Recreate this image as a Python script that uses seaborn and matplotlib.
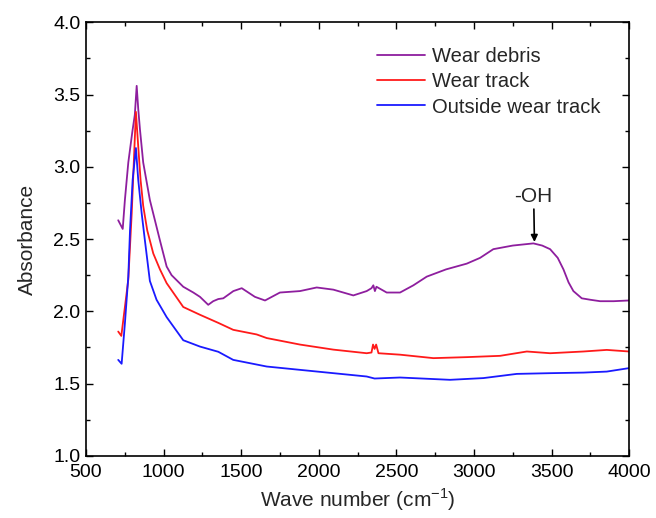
import pandas as pd
import seaborn as sns
import matplotlib
matplotlib.use('Agg')
import matplotlib.pyplot as plt
from matplotlib.ticker import MultipleLocator, FormatStrFormatter

# spectra
debris_x = [708, 737, 751, 773, 800, 815, 827, 837, 848, 869, 912, 977, 1020, 1052,
            1127, 1192, 1235, 1288, 1320, 1353, 1385, 1450, 1504, 1589, 1654, 1750,
            1879, 1987, 2094, 2223, 2309, 2340, 2352, 2362, 2372, 2438, 2524, 2610,
            2696, 2820, 2954, 3040, 3125, 3250, 3383, 3440, 3491, 3540, 3577, 3610,
            3641, 3695, 3750, 3813, 3900, 4000]
debris_y = [2.63, 2.57, 2.77, 3.03, 3.25, 3.36, 3.56, 3.40, 3.26, 3.03, 2.77, 2.49,
            2.31, 2.25, 2.17, 2.13, 2.10, 2.045, 2.07, 2.085, 2.09, 2.14, 2.16, 2.10,
            2.075, 2.13, 2.14, 2.165, 2.15, 2.11, 2.14, 2.16, 2.18, 2.14, 2.17, 2.13,
            2.13, 2.18, 2.24, 2.29, 2.33, 2.37, 2.43, 2.455, 2.47, 2.455, 2.43, 2.37,
            2.29, 2.20, 2.14, 2.09, 2.08, 2.07, 2.07, 2.075]

track_x = [708, 728, 750, 773, 795, 822, 837, 852, 869, 895, 934, 977, 1020, 1127,
           1235, 1353, 1449, 1600, 1665, 1879, 2094, 2309, 2340, 2350, 2360, 2370,
           2385, 2524, 2739, 2954, 3169, 3341, 3491, 3706, 3856, 4000]
track_y = [1.86, 1.83, 2.02, 2.22, 2.68, 3.38, 3.14, 2.91, 2.73, 2.56, 2.40, 2.29,
           2.195, 2.03, 1.976, 1.92, 1.872, 1.84, 1.815, 1.77, 1.735, 1.71, 1.715,
           1.77, 1.74, 1.77, 1.71, 1.70, 1.676, 1.683, 1.692, 1.722, 1.71, 1.722,
           1.733, 1.722]

outside_x = [708, 730, 752, 773, 784, 801, 822, 837, 859, 880, 912, 955, 1020, 1127,
             1235, 1353, 1449, 1665, 1879, 2094, 2309, 2360, 2524, 2846, 3061, 3276,
             3491, 3706, 3856, 4000]
outside_y = [1.664, 1.637, 1.93, 2.24, 2.56, 2.91, 3.13, 2.91, 2.68, 2.49, 2.21,
             2.08, 1.96, 1.80, 1.756, 1.72, 1.664, 1.618, 1.595, 1.572, 1.549, 1.535,
             1.542, 1.526, 1.538, 1.567, 1.572, 1.576, 1.583, 1.607]

labels = ['Wear debris', 'Wear track', 'Outside wear track']
colors = ['#8E1E9E', '#FF1A1A', '#1A1AFF']

df = pd.concat([
    pd.DataFrame({'wavenumber': debris_x, 'absorbance': debris_y, 'sample': labels[0]}),
    pd.DataFrame({'wavenumber': track_x, 'absorbance': track_y, 'sample': labels[1]}),
    pd.DataFrame({'wavenumber': outside_x, 'absorbance': outside_y, 'sample': labels[2]}),
])

sns.set_style('ticks')
plt.rcParams['font.family'] = ['Liberation Sans', 'DejaVu Sans']

fig = plt.figure(figsize=(6.56, 5.18), dpi=100)
ax = fig.add_axes([0.131, 0.12, 0.828, 0.837])

sns.lineplot(data=df, x='wavenumber', y='absorbance', hue='sample',
             palette=dict(zip(labels, colors)), estimator=None, sort=False,
             lw=1.3, ax=ax)

ax.set_xlim(500, 4000)
ax.set_ylim(1.0, 4.0)
ax.xaxis.set_major_locator(MultipleLocator(500))
ax.xaxis.set_minor_locator(MultipleLocator(250))
ax.yaxis.set_major_locator(MultipleLocator(0.5))
ax.yaxis.set_minor_locator(MultipleLocator(0.25))
ax.yaxis.set_major_formatter(FormatStrFormatter('%.1f'))
ax.tick_params(which='both', direction='in', top=True, right=True, width=1.0,
               colors='black', labelsize=14)
ax.tick_params(which='major', length=5)
ax.tick_params(which='minor', length=3)
ax.tick_params(axis='x', which='major', pad=6)
ax.tick_params(axis='y', which='major', pad=4)
for s in ax.spines.values():
    s.set_linewidth(1.2)
    s.set_color('black')

ax.set_xlabel('Wave number (cm$^{\\mathregular{-1}}$)', fontsize=15, labelpad=4)
ax.set_ylabel('Absorbance', fontsize=15, labelpad=12)

ax.annotate('-OH', xy=(3390, 2.48), xytext=(3385, 2.73),
            ha='center', va='bottom', fontsize=15,
            arrowprops=dict(arrowstyle='-|>', color='black', lw=1.2,
                            shrinkA=0, shrinkB=0, mutation_scale=10))

ax.legend(frameon=False, loc='upper left', bbox_to_anchor=(0.535, 0.942),
          borderpad=0, borderaxespad=0, fontsize=14.5, handlelength=2.4,
          handletextpad=0.35, labelspacing=0.3)

fig.savefig('out.png', dpi=100)
